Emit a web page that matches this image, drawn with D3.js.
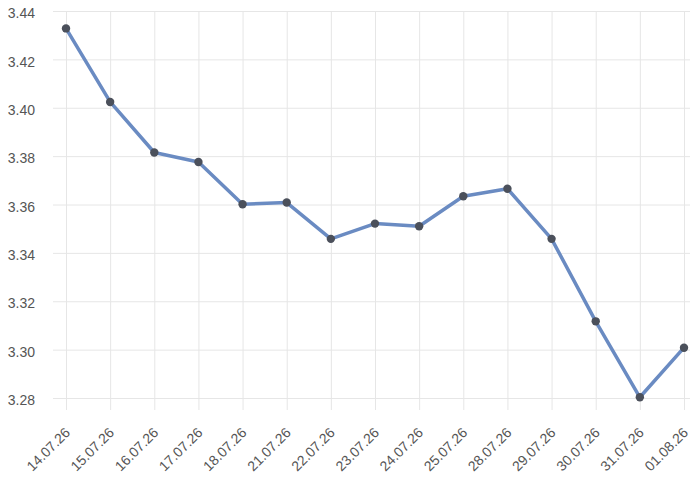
<!DOCTYPE html>
<html><head><meta charset="utf-8">
<script src="https://cdn.jsdelivr.net/npm/d3@7"></script>
<style>body{margin:0;background:#fff}svg{display:block}</style>
</head><body>
<svg id="c" width="690" height="477"></svg>
<script>
const categories = ["14.07.26","15.07.26","16.07.26","17.07.26","18.07.26","21.07.26","22.07.26","23.07.26","24.07.26","25.07.26","28.07.26","29.07.26","30.07.26","31.07.26","01.08.26"];
const values = [3.4328,3.4024,3.3815,3.3776,3.3601,3.3608,3.3458,3.3521,3.3510,3.3634,3.3665,3.3458,3.3117,3.2803,3.3008];
const yTicks = [3.28,3.30,3.32,3.34,3.36,3.38,3.40,3.42,3.44];

(function(){
const svg = d3.select("#c");
const pLeft = 66, pRight = 684, pTop = 11, pBottom = 398;
const x = d3.scalePoint().domain(categories).range([pLeft, pRight]);
const y = d3.scaleLinear().domain([3.28, 3.44]).range([pBottom, pTop]);
const font = "'Liberation Sans', Arial, sans-serif";

// horizontal grid + y labels
const ya = svg.append("g").attr("transform", "translate(53,0)")
  .call(d3.axisLeft(y).tickValues(yTicks).tickFormat(d3.format(".2f")).tickSize(-(690-53)).tickPadding(18));
ya.select(".domain").remove();
ya.selectAll("line").attr("stroke", "#e6e6e6");
ya.selectAll("text").attr("fill", "#555").attr("dy", "0.48em")
  .style("font-family", font).style("font-size", "14px");

// vertical grid + x labels
const xa = svg.append("g").attr("transform", `translate(0,${pBottom + 12})`)
  .call(d3.axisBottom(x).tickSize(-(pBottom + 12 - pTop)).tickPadding(0));
xa.select(".domain").remove();
xa.selectAll("line").attr("stroke", "#e6e6e6");
xa.selectAll("text").attr("fill", "#555").style("font-family", font).style("font-size", "14px")
  .attr("text-anchor", "end").attr("dy", "0.35em").attr("y", 0)
  .attr("transform", "translate(1,20) rotate(-45)");

const data = categories.map((c, i) => ({c, v: values[i]}));
svg.append("path").datum(data)
  .attr("fill", "none").attr("stroke", "#6a8bc2").attr("stroke-width", 3.5)
  .attr("stroke-linejoin", "round")
  .attr("d", d3.line().x(d => x(d.c)).y(d => y(d.v)));
svg.selectAll("circle.p").data(data).enter().append("circle")
  .attr("cx", d => x(d.c)).attr("cy", d => y(d.v)).attr("r", 4.2)
  .attr("fill", "#4b505b");
})();
</script>
</body></html>
